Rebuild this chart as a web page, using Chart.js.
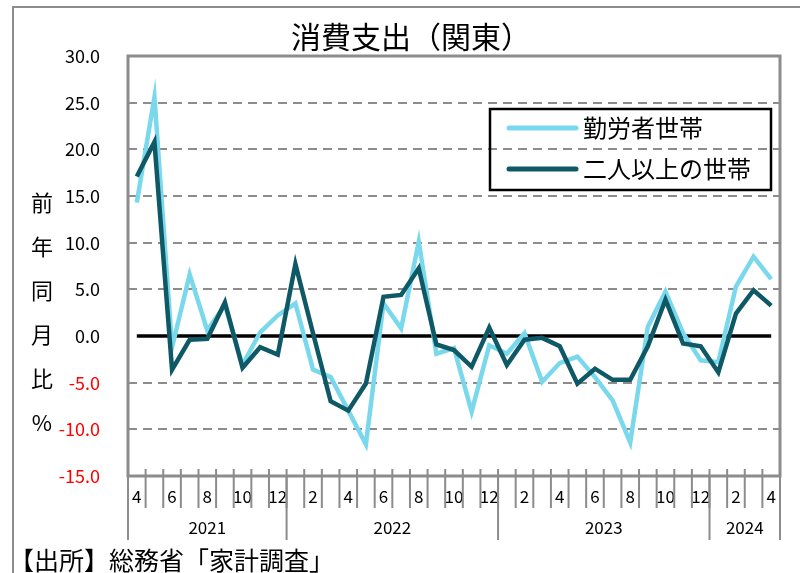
<!DOCTYPE html>
<html>
<head>
<meta charset="utf-8">
<script src="https://cdn.jsdelivr.net/npm/chart.js@4.4.1/dist/chart.umd.min.js"></script>
<style>
  html, body { margin: 0; padding: 0; background: #fff; }
  #wrap { width: 800px; height: 573px; position: relative; }
</style>
</head>
<body>
<div id="wrap"><canvas id="chart" width="800" height="573"></canvas></div>
<script>
// 月次データ（2021年4月〜2024年4月、前年同月比 %）
const months = ['4','5','6','7','8','9','10','11','12',
  '1','2','3','4','5','6','7','8','9','10','11','12',
  '1','2','3','4','5','6','7','8','9','10','11','12',
  '1','2','3','4'];
const years = ['2021', '2022', '2023', '2024'];
const yearCounts = [9, 12, 12, 4];

const workers = [14.3, 25.6, -1.2, 6.6, 0.6, 3.3, -3.1, 0.4, 2.2,
  3.5, -3.6, -4.4, -8.0, -11.6, 3.5, 0.8, 10.1, -1.9, -1.3, -8.1, -1.0,
  -1.9, 0.3, -4.9, -2.9, -2.2, -4.4, -6.9, -11.4, 1.0, 4.75, 0.3, -2.6,
  -2.8, 5.3, 8.5, 6.1];
const twoPlus = [17.1, 20.8, -3.6, -0.4, -0.3, 3.6, -3.4, -1.2, -2.0,
  7.7, 0.3, -7.0, -8.0, -5.1, 4.2, 4.4, 7.25, -0.9, -1.5, -3.3, 0.9,
  -3.1, -0.4, -0.2, -1.1, -5.1, -3.5, -4.7, -4.7, -1.1, 3.9, -0.8, -1.1,
  -3.9, 2.4, 4.9, 3.25];

const seriesNames = ['勤労者世帯', '二人以上の世帯'];
const chartTitle = '消費支出（関東）';
const yAxisTitle = ['前', '年', '同', '月', '比', '%'];
const sourceText = '【出所】総務省「家計調査」';

const FONT = '"Noto Sans CJK JP", "Noto Sans", sans-serif';
const GRAY = '#8c8c8c';

// 枠・目盛り線・年ラベル・凡例などの描画
const decor = {
  id: 'decor',
  beforeDraw(chart) {
    const c = chart.ctx;
    c.save();
    c.strokeStyle = GRAY;
    c.lineWidth = 2;
    c.beginPath();
    c.moveTo(13, 600);
    c.lineTo(13, 7);
    c.lineTo(820, 7);
    c.stroke();
    c.restore();
  },
  beforeDatasetsDraw(chart) {
    const c = chart.ctx;
    const a = chart.chartArea;
    const x = chart.scales.x;
    const y = chart.scales.y;
    const w = x.getPixelForValue(1) - x.getPixelForValue(0);
    const edge = k => x.getPixelForValue(k) - w / 2;
    c.save();
    // 0 line
    c.strokeStyle = '#000';
    c.lineWidth = 3.5;
    c.beginPath();
    c.moveTo(x.getPixelForValue(0), y.getPixelForValue(0));
    c.lineTo(x.getPixelForValue(months.length - 1), y.getPixelForValue(0));
    c.stroke();
    // plot border
    c.strokeStyle = GRAY;
    c.lineWidth = 3;
    c.strokeRect(a.left, a.top, a.right - a.left, a.bottom - a.top);
    // month ticks
    c.lineWidth = 2;
    c.beginPath();
    for (let k = 1; k < months.length; k++) {
      c.moveTo(edge(k), a.bottom - 7);
      c.lineTo(edge(k), a.bottom + 32);
    }
    c.stroke();
    // year dividers + labels
    let k = 0;
    const ks = [0];
    yearCounts.forEach(n => { k += n; ks.push(k); });
    c.beginPath();
    ks.forEach(kk => {
      c.moveTo(edge(kk), a.bottom);
      c.lineTo(edge(kk), a.bottom + 64);
    });
    c.stroke();
    c.fillStyle = '#000';
    c.font = '17px ' + FONT;
    c.textAlign = 'center';
    c.textBaseline = 'middle';
    years.forEach((yr, i) => {
      c.fillText(yr, (edge(ks[i]) + edge(ks[i + 1])) / 2, a.bottom + 52);
    });
    c.restore();
  },
  afterDraw(chart) {
    const c = chart.ctx;
    c.save();
    c.fillStyle = '#000';
    c.textBaseline = 'middle';
    // title
    c.textAlign = 'center';
    c.font = '30px ' + FONT;
    c.fillText(chartTitle, 411, 37);
    // y axis title (vertical)
    c.font = '22px ' + FONT;
    yAxisTitle.forEach((ch, i) => c.fillText(ch, 42, 203 + i * 44));
    // source
    c.textAlign = 'left';
    c.font = '25px ' + FONT;
    c.fillText(sourceText, 9, 560);
    // legend
    c.lineWidth = 2.5;
    c.strokeStyle = '#000';
    c.strokeRect(490, 109, 281, 81);
    c.font = '24px ' + FONT;
    chart.data.datasets.forEach((ds, i) => {
      const ly = 128 + i * 41;
      c.strokeStyle = ds.borderColor;
      c.lineWidth = 5;
      c.lineCap = 'round';
      c.beginPath();
      c.moveTo(509, ly);
      c.lineTo(576, ly);
      c.stroke();
      c.fillText(ds.label, 583, ly);
    });
    c.restore();
  }
};

new Chart(document.getElementById('chart'), {
  type: 'line',
  data: {
    labels: months,
    datasets: [
      { label: seriesNames[0], data: workers, borderColor: '#79d8ec', borderWidth: 4.5,
        pointRadius: 0, tension: 0, order: 1 },
      { label: seriesNames[1], data: twoPlus, borderColor: '#0f5866', borderWidth: 4.5,
        pointRadius: 0, tension: 0, order: 0 }
    ]
  },
  options: {
    responsive: false,
    animation: false,
    layout: { padding: { left: 0, right: 20, top: 56, bottom: 0 } },
    plugins: {
      legend: { display: false },
      tooltip: { enabled: false },
      title: { display: false }
    },
    scales: {
      x: {
        offset: true,
        grid: { display: false, drawTicks: false },
        border: { display: false },
        afterFit: s => { s.height = 97; },
        ticks: {
          autoSkip: false,
          maxRotation: 0,
          padding: 10,
          color: '#000',
          font: { family: FONT, size: 17 },
          callback: (v, i) => (i % 2 === 0 ? months[i] : '')
        }
      },
      y: {
        min: -15,
        max: 30,
        afterFit: s => { s.width = 128; },
        grid: {
          drawTicks: false,
          lineWidth: 2,
          color: ctx => (ctx.tick && ctx.tick.value === 0 ? 'rgba(0,0,0,0)' : GRAY)
        },
        border: { display: false, dash: [9, 6] },
        ticks: {
          stepSize: 5,
          padding: 28,
          font: { family: FONT, size: 18 },
          color: ctx => (ctx.tick && ctx.tick.value < 0 ? '#ff0000' : '#000'),
          callback: v => v.toFixed(1)
        }
      }
    }
  },
  plugins: [decor]
});
</script>
</body>
</html>
